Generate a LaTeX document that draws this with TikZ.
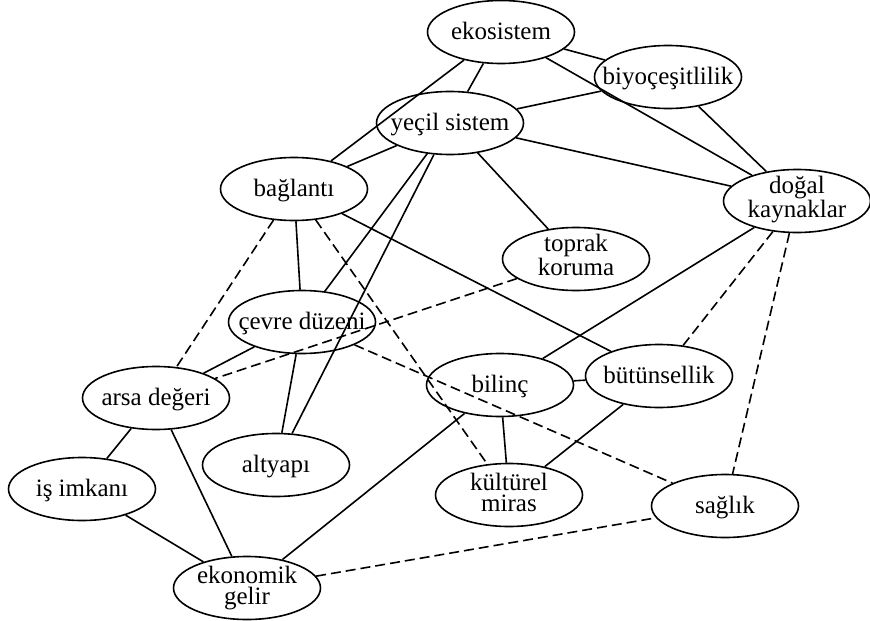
\documentclass[tikz,border=0pt]{standalone}
\usepackage{fontspec}
\setmainfont{Liberation Serif}
\usetikzlibrary{shapes.geometric}
\newcommand{\fsz}{\fontsize{25}{21}\selectfont}
\tikzset{
  el/.style={draw, ellipse, minimum width=147pt, minimum height=63pt, inner sep=0pt, line width=1.6pt},
  tone/.style={font=\fsz, text height=17pt, text depth=2pt, inner sep=0pt},
  ttwo/.style={font=\fsz, align=center, text height=38pt, text depth=5pt, inner sep=0pt},
  edge/.style={line width=1.6pt},
  dedge/.style={line width=1.6pt, dash pattern=on 10pt off 5pt},
}
\begin{document}
\begin{tikzpicture}[x=1pt, y=-1pt]
\useasboundingbox (0,0) rectangle (870,621);
\node[el, label={[tone]center:ekosistem}] (eko) at (501,32) {};
\node[el, label={[tone]center:biyoçeşitlilik}] (biyo) at (668,77) {};
\node[el, label={[tone]center:yeçil sistem}] (yes) at (450,123) {};
\node[el, label={[tone]center:bağlantı}] (bag) at (294,189) {};
\node[el, label={[ttwo]center:doğal\\kaynaklar}] (dog) at (797,201) {};
\node[el, label={[ttwo]center:toprak\\koruma}] (top) at (576,259) {};
\node[el, label={[tone]center:çevre düzeni}] (cev) at (302,322) {};
\node[el, label={[tone]center:arsa değeri}] (arsa) at (156,398) {};
\node[el, label={[tone]center:bilinç}] (bil) at (500,385) {};
\node[el, label={[tone]center:bütünsellik}] (but) at (659,376) {};
\node[el, label={[tone]center:altyapı}] (alt) at (276,465) {};
\node[el, label={[tone]center:iş imkanı}] (is) at (82,489) {};
\node[el, label={[ttwo]center:kültürel\\miras}] (kul) at (509,495) {};
\node[el, label={[tone]center:sağlık}] (sag) at (725,506) {};
\node[el, label={[ttwo]center:ekonomik\\gelir}] (eg) at (247,588) {};
% solid edges
\draw[edge] (eko) -- (yes);
\draw[edge] (eko) -- (bag);
\draw[edge] (eko) -- (biyo);
\draw[edge] (eko) -- (dog);
\draw[edge] (biyo) -- (yes);
\draw[edge] (biyo) -- (dog);
\draw[edge] (yes) -- (dog);
\draw[edge] (yes) -- (bag);
\draw[edge] (yes) -- (cev);
\draw[edge] (yes) -- (alt);
\draw[edge] (yes) -- (top);
\draw[edge] (bag) -- (cev);
\draw[edge] (bag) -- (but);
\draw[edge] (cev) -- (arsa);
\draw[edge] (cev) -- (alt);
\draw[edge] (arsa) -- (is);
\draw[edge] (arsa) -- (eg);
\draw[edge] (is) -- (eg);
\draw[edge] (eg) -- (bil);
\draw[edge] (bil) -- (dog);
\draw[edge] (bil) -- (but);
\draw[edge] (bil) -- (kul);
\draw[edge] (but) -- (kul);
% dashed edges
\draw[dedge] (bag) -- (arsa);
\draw[dedge] (bag) -- (kul);
\draw[dedge] (top) -- (arsa);
\draw[dedge] (cev) -- (sag);
\draw[dedge] (eg) -- (sag);
\draw[dedge] (dog) -- (but);
\draw[dedge] (dog) -- (sag);
\end{tikzpicture}
\end{document}
